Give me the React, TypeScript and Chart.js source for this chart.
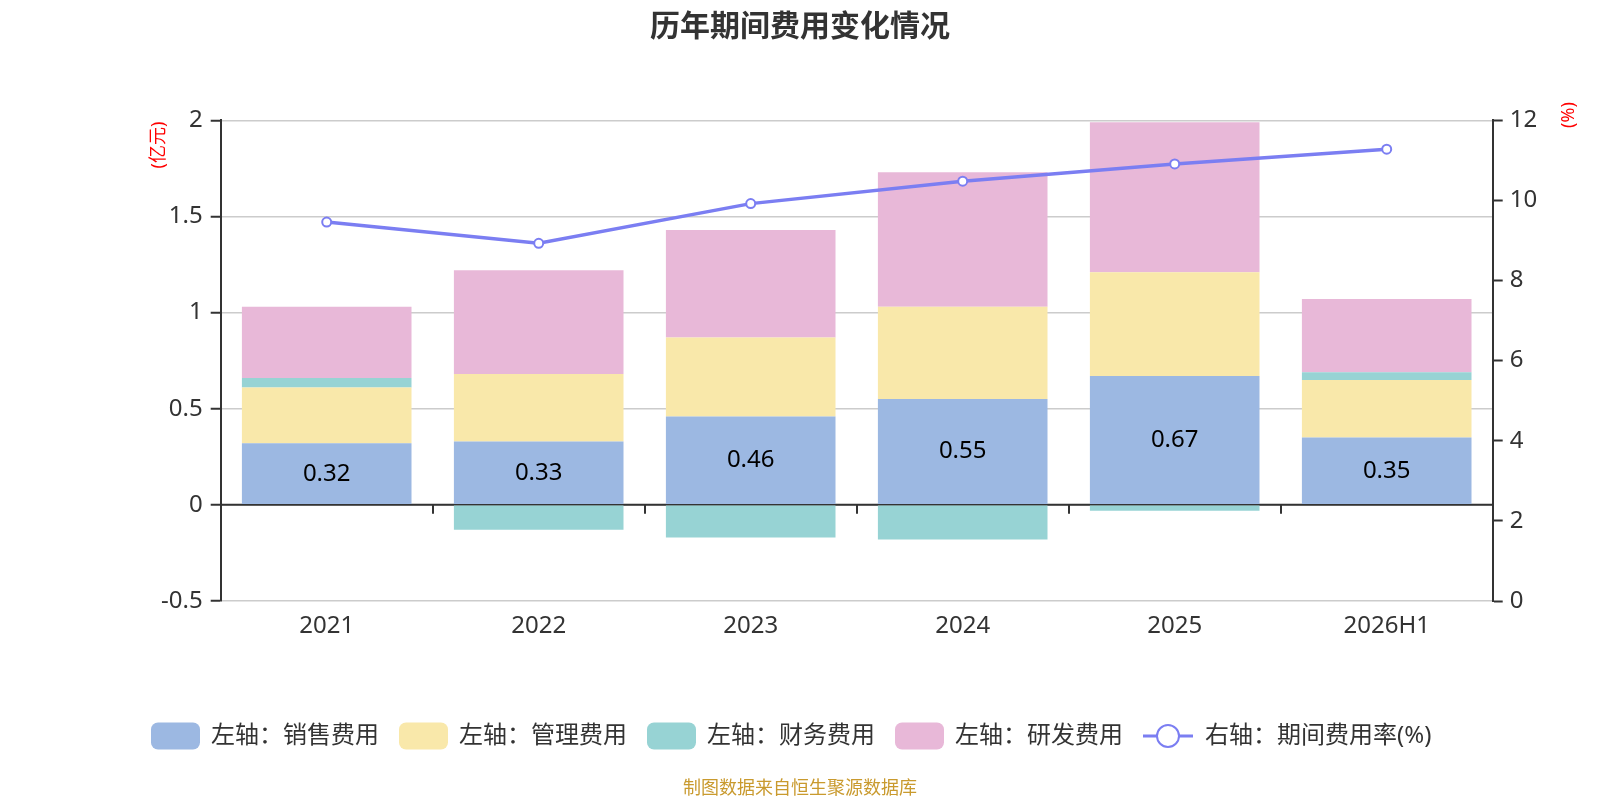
import React, { useEffect, useRef } from "react";
import { Chart, registerables } from "chart.js";

Chart.register(...registerables);

const categories = ["2021", "2022", "2023", "2024", "2025", "2026H1"];
const salesExp = [0.32, 0.33, 0.46, 0.55, 0.67, 0.35];
const adminExp = [0.29, 0.35, 0.41, 0.48, 0.54, 0.3];
const financeExp = [0.05, -0.13, -0.17, -0.18, -0.03, 0.04];
const rdExp = [0.37, 0.54, 0.56, 0.7, 0.78, 0.38];
const expenseRate = [9.46, 8.93, 9.92, 10.48, 10.91, 11.28];

const seriesNames = ["左轴：销售费用", "左轴：管理费用", "左轴：财务费用", "左轴：研发费用", "右轴：期间费用率(%)"];
const colors = ["#9cb8e2", "#f9e8aa", "#97d3d4", "#e8b8d8", "#7b7ef2"];

const FONT = '"Noto Sans", "Noto Sans CJK SC", sans-serif';
const TEXT = "#333";

const decorPlugin = {
  id: "decor",
  beforeDatasetsDraw(chart: any) {
    const { ctx, chartArea, scales } = chart;
    const xs = scales.x;
    const y0 = scales.y.getPixelForValue(0);
    ctx.save();
    ctx.strokeStyle = TEXT;
    ctx.lineWidth = 2;
    ctx.beginPath();
    ctx.moveTo(chartArea.left, y0);
    ctx.lineTo(chartArea.right, y0);
    for (let i = 0; i < categories.length - 1; i++) {
      const bx = Math.round((xs.getPixelForValue(i) + xs.getPixelForValue(i + 1)) / 2);
      ctx.moveTo(bx, y0);
      ctx.lineTo(bx, y0 + 9);
    }
    ctx.stroke();
    ctx.restore();
  },
  afterDatasetsDraw(chart: any) {
    const { ctx } = chart;
    const meta = chart.getDatasetMeta(0);
    ctx.save();
    ctx.font = `24px ${FONT}`;
    ctx.fillStyle = "#000";
    ctx.textAlign = "center";
    ctx.textBaseline = "middle";
    meta.data.forEach((el: any, i: number) => {
      const p = el.getProps(["x", "y", "base"], true);
      ctx.fillText(salesExp[i].toFixed(2), p.x, (p.y + p.base) / 2);
    });
    ctx.restore();
  },
  afterDraw(chart: any) {
    const { ctx } = chart;
    ctx.save();
    // title
    ctx.font = `bold 30px ${FONT}`;
    ctx.fillStyle = TEXT;
    ctx.textAlign = "center";
    ctx.textBaseline = "middle";
    ctx.fillText("历年期间费用变化情况", 800, 27);

    // axis unit titles
    ctx.font = `18px ${FONT}`;
    ctx.fillStyle = "#ff0000";
    ctx.save();
    ctx.translate(159, 145);
    ctx.rotate(-Math.PI / 2);
    ctx.fillText("(亿元)", 0, 0);
    ctx.restore();
    ctx.save();
    ctx.translate(1569, 115);
    ctx.rotate(-Math.PI / 2);
    ctx.fillText("(%)", 0, 0);
    ctx.restore();

    // legend
    const ly = 736;
    let lx = 151;
    ctx.font = `24px ${FONT}`;
    ctx.textAlign = "left";
    ctx.textBaseline = "middle";
    seriesNames.forEach((name, i) => {
      if (i < 4) {
        ctx.fillStyle = colors[i];
        ctx.beginPath();
        (ctx as any).roundRect(lx, ly - 13.5, 49, 27, 7);
        ctx.fill();
        lx += 49 + 11;
      } else {
        ctx.strokeStyle = colors[i];
        ctx.lineWidth = 3;
        ctx.beginPath();
        ctx.moveTo(lx, ly);
        ctx.lineTo(lx + 50, ly);
        ctx.stroke();
        ctx.beginPath();
        ctx.arc(lx + 25, ly, 11, 0, Math.PI * 2);
        ctx.fillStyle = "#fff";
        ctx.fill();
        ctx.lineWidth = 2;
        ctx.stroke();
        lx += 50 + 12;
      }
      ctx.fillStyle = TEXT;
      ctx.fillText(name, lx, ly);
      lx += ctx.measureText(name).width + 20;
    });

    // footer
    ctx.font = `18px ${FONT}`;
    ctx.fillStyle = "#c99a2e";
    ctx.textAlign = "center";
    ctx.fillText("制图数据来自恒生聚源数据库", 800, 789);
    ctx.restore();
  },
};

export default function App() {
  const ref = useRef<HTMLCanvasElement | null>(null);

  useEffect(() => {
    if (!ref.current) return;
    const barBase = { type: "bar" as const, yAxisID: "y", stack: "exp", order: 1, borderWidth: 0, barPercentage: 0.8, categoryPercentage: 1.0 };
    const chart = new Chart(ref.current, {
      type: "bar",
      data: {
        labels: categories,
        datasets: [
          { ...barBase, label: seriesNames[0], data: salesExp, backgroundColor: colors[0] },
          { ...barBase, label: seriesNames[1], data: adminExp, backgroundColor: colors[1] },
          { ...barBase, label: seriesNames[2], data: financeExp, backgroundColor: colors[2] },
          { ...barBase, label: seriesNames[3], data: rdExp, backgroundColor: colors[3] },
          {
            type: "line" as const,
            label: seriesNames[4],
            data: expenseRate,
            yAxisID: "y1",
            order: 0,
            borderColor: colors[4],
            borderWidth: 3.5,
            pointRadius: 4.5,
            pointBorderWidth: 2,
            pointBackgroundColor: "#fff",
            pointBorderColor: colors[4],
            tension: 0,
          } as any,
        ],
      },
      options: {
        animation: false,
        responsive: true,
        maintainAspectRatio: false,
        events: [],
        layout: { padding: { top: 120.3, left: 0, right: 0, bottom: 0 } },
        plugins: { legend: { display: false }, title: { display: false }, tooltip: { enabled: false } },
        scales: {
          x: {
            type: "category",
            stacked: true,
            offset: true,
            grid: { display: false },
            border: { display: false },
            ticks: { color: TEXT, font: { family: FONT, size: 24 }, padding: 3 },
            afterFit: (s: any) => {
              s.height = 199;
            },
          },
          y: {
            type: "linear",
            position: "left",
            stacked: true,
            min: -0.5,
            max: 2,
            ticks: {
              stepSize: 0.5,
              color: TEXT,
              font: { family: FONT, size: 24 },
              padding: 8,
              callback: (v: any) => String(Number(v)),
            },
            grid: { color: "#cccccc", lineWidth: 1.5, tickColor: TEXT, tickWidth: 2, tickLength: 10 },
            border: { color: TEXT, width: 2 },
            afterFit: (s: any) => {
              s.width = 220.7;
            },
          },
          y1: {
            type: "linear",
            position: "right",
            min: 0,
            max: 12,
            ticks: {
              stepSize: 2,
              color: TEXT,
              font: { family: FONT, size: 24 },
              padding: 7,
              callback: (v: any) => String(Number(v)),
            },
            grid: { drawOnChartArea: false, tickColor: TEXT, tickWidth: 2, tickLength: 10 },
            border: { color: TEXT, width: 2 },
            afterFit: (s: any) => {
              s.width = 107.3;
            },
          },
        },
      } as any,
      plugins: [decorPlugin],
    });
    return () => chart.destroy();
  }, []);

  return (
    <div style={{ position: "fixed", left: 0, top: 0, width: 1600, height: 800, background: "#fff" }}>
      <canvas ref={ref} />
    </div>
  );
}
